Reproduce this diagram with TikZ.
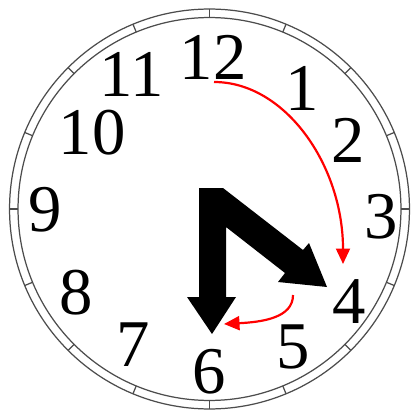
\documentclass[tikz,border=0pt]{standalone}
\usepackage{fontspec}
\setmainfont{Liberation Serif}
\usetikzlibrary{arrows.meta}

\begin{document}
\begin{tikzpicture}[x=0.02cm,y=-0.02cm,>={Triangle[length=0.31cm,width=0.28cm]},
  num/.style={inner sep=0pt,font=\fontsize{38}{40}\selectfont},
  ring/.style={draw=black!70,line width=0.7pt},
  move/.style={red,line width=1.25pt,->}]
\useasboundingbox (0,0) rectangle (412,415);
% face
\coordinate (c) at (209.5,209);
\draw[ring] (c) circle[radius=4cm];
\draw[ring] (c) circle[radius=3.83cm];
\foreach \a in {0,22.5,...,337.5}
  \draw[ring] ([shift={(\a:3.83cm)}]c) -- ([shift={(\a:4cm)}]c);
% numbers
\node[num] (n12) at (213,57) {12};
\node[num] (n1) at (302,88) {1};
\node[num] (n2) at (348,140) {2};
\node[num] (n3) at (381,217) {3};
\node[num] (n4) at (349,302) {4};
\node[num] (n5) at (293,347) {5};
\node[num] (n6) at (209,372) {6};
\node[num] (n7) at (133,345) {7};
\node[num] (n8) at (76,293) {8};
\node[num] (n9) at (45,210) {9};
\node[num] (n10) at (92,133) {10};
\node[num] (n11) at (132,74) {11};
% hands
\fill (199,188) -- (223,188) -- (303,250) -- (309,243) -- (327,287) -- (278,282)
  -- (285,273) -- (226,227) -- (226,297) -- (236,297) -- (212,334) -- (187,297)
  -- (199,297) -- cycle;
% moves
\coordinate (p12) at (214,82);
\coordinate (p4) at (343,264);
\draw[move] (p12) .. controls (285,82) and (343,165) .. (p4);
\coordinate (q4) at (293,295);
\coordinate (q6) at (224,324);
\draw[move] (q4) .. controls (293,318) and (262,322) .. (q6);
\end{tikzpicture}
\end{document}
